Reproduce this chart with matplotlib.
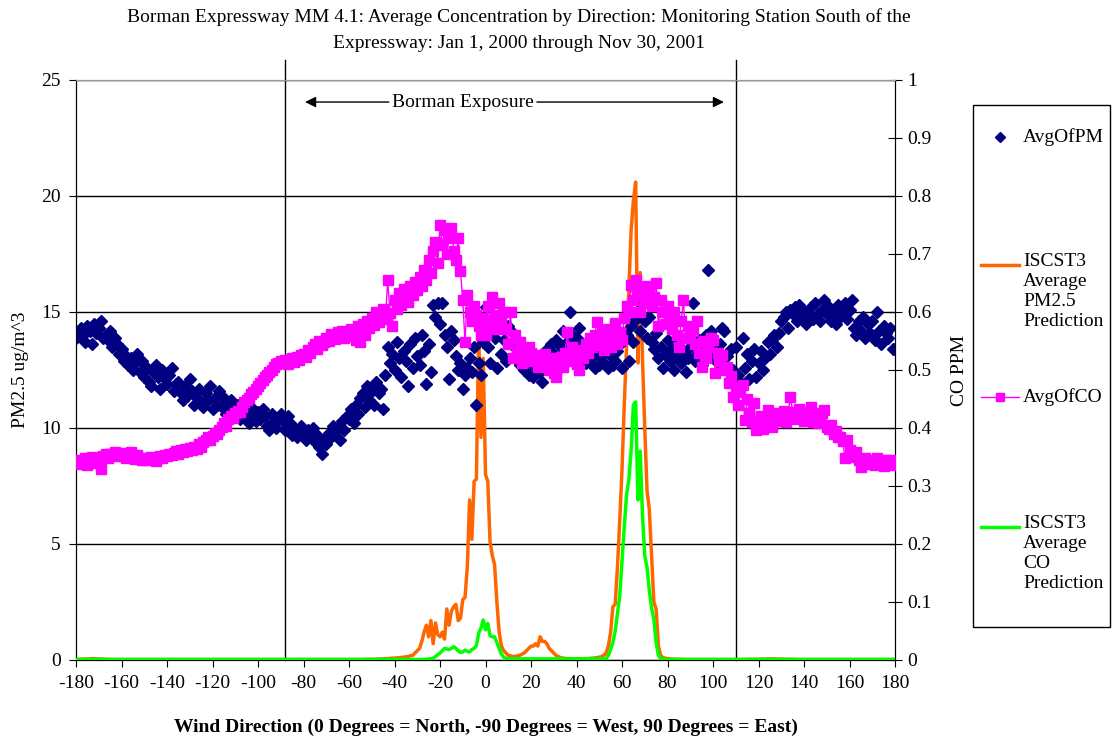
import numpy as np
import matplotlib
matplotlib.use('Agg')
import matplotlib.pyplot as plt
from matplotlib.lines import Line2D
from matplotlib.patches import Rectangle

# ---------------- data (1 degree steps, -180 .. 180) ----------------
directions = list(range(-180, 181))

pm_avg = [
    13.9, 14.1, 14.3, 14.0, 13.7, 14.4, 14.2, 13.6, 14.5, 14.1,
    14.3, 14.6, 13.9, 14.0, 13.8, 14.2, 13.5, 13.9, 13.6, 13.2,
    13.4, 12.9, 13.1, 12.7, 13.0, 12.5, 12.8, 13.2, 12.4, 12.9,
    12.2, 12.6, 12.0, 11.8, 12.4, 12.7, 12.2, 11.7, 12.5, 12.1,
    11.9, 12.3, 12.6, 11.6, 11.9, 12.0, 11.5, 11.2, 11.8, 11.4,
    12.1, 11.6, 11.0, 11.3, 11.7, 11.1, 10.9, 11.5, 11.2, 11.8,
    10.8, 11.3, 11.0, 11.6, 10.9, 11.3, 10.6, 10.9, 11.2, 10.5,
    10.8, 11.0, 10.4, 10.7, 11.0, 10.6, 10.2, 10.9, 10.5, 10.3,
    10.7, 10.4, 10.8, 10.5, 10.1, 9.9, 10.6, 10.3, 10.0, 10.4,
    10.6, 10.3, 9.9, 10.5, 10.2, 9.7, 10.0, 9.6, 9.8, 10.1,
    9.8, 9.5, 9.9, 9.6, 10.0, 9.4, 9.7, 9.2, 8.9, 9.5,
    9.3, 9.8, 9.6, 10.1, 9.7, 10.0, 9.5, 10.3, 9.9, 10.5,
    10.4, 10.8, 10.2, 11.0, 10.6, 11.3, 11.5, 10.9, 11.8, 11.2,
    11.6, 11.0, 12.0, 11.5, 11.7, 10.8, 12.3, 13.5, 12.8, 13.2,
    12.5, 13.7, 13.0, 12.2, 13.3, 12.9, 11.8, 13.6, 12.6, 13.9,
    13.1, 12.7, 14.0, 13.3, 11.9, 13.6, 12.4, 15.3, 14.8, 15.4,
    14.5, 15.4, 14.0, 13.5, 12.1, 14.2, 13.8, 13.1, 12.5, 12.8,
    11.7, 12.3, 12.6, 13.0, 12.4, 13.5, 11.0, 12.8, 12.3, 13.7,
    15.2, 13.5, 12.8, 14.3, 13.9, 12.6, 14.5, 13.2, 13.8, 12.9,
    14.4, 13.6, 14.1, 13.0, 13.8, 12.7, 13.3, 12.5, 13.0, 12.3,
    12.8, 12.2, 12.6, 13.1, 12.4, 12.0, 12.9, 13.4, 12.7, 13.6,
    13.2, 13.8, 12.5, 13.5, 14.2, 13.0, 13.7, 15.0, 14.0, 13.3,
    13.9, 14.3, 13.1, 13.6, 12.8, 13.4, 12.9, 13.3, 12.6, 13.0,
    12.7, 13.2, 12.8, 13.5, 12.6, 13.1, 12.7, 12.9, 13.3, 13.6,
    12.6, 13.8, 14.0, 12.9, 14.4, 13.7, 14.7, 15.0, 14.2, 15.3,
    14.6, 13.9, 14.8, 13.7, 13.4, 14.1, 13.0, 13.5, 12.6, 13.2,
    13.8, 12.9, 13.4, 12.5, 13.1, 13.7, 12.8, 13.3, 12.4, 13.0,
    13.5, 15.4, 12.9, 13.2, 13.8, 12.7, 13.6, 14.0, 16.8, 14.2,
    13.3, 13.0, 12.8, 13.6, 14.3, 14.2, 13.1, 12.6, 13.4, 12.5,
    13.5, 12.3, 12.0, 13.9, 12.6, 13.2, 12.1, 12.9, 13.4, 12.2,
    12.8, 13.3, 12.5, 13.0, 13.7, 13.2, 13.8, 14.0, 13.5, 14.1,
    14.6, 14.8, 15.0, 14.3, 15.1, 14.9, 15.2, 14.6, 15.3, 14.8,
    15.0, 14.5, 14.8, 15.2, 14.7, 15.4, 14.9, 14.6, 15.1, 15.5,
    14.9, 15.2, 14.6, 15.0, 14.5, 15.3, 14.8, 15.0, 15.4, 14.7,
    15.1, 15.5, 14.3, 14.0, 14.6, 14.2, 14.8, 13.9, 14.5, 14.1,
    14.6, 13.8, 15.0, 14.2, 13.6, 14.4, 14.1, 13.9, 14.3, 13.4,
    13.4,
]

co_avg = [
    0.342, 0.345, 0.338, 0.343, 0.348, 0.336, 0.344, 0.350, 0.341, 0.339,
    0.347, 0.330, 0.352, 0.355, 0.349, 0.356, 0.353, 0.358, 0.351, 0.355,
    0.357, 0.352, 0.349, 0.355, 0.358, 0.351, 0.347, 0.353, 0.349, 0.345,
    0.348, 0.344, 0.347, 0.350, 0.346, 0.343, 0.349, 0.352, 0.348, 0.354,
    0.351, 0.356, 0.353, 0.357, 0.360, 0.355, 0.362, 0.358, 0.364, 0.360,
    0.366, 0.362, 0.368, 0.364, 0.372, 0.368, 0.375, 0.380, 0.384, 0.380,
    0.386, 0.392, 0.389, 0.396, 0.402, 0.408, 0.404, 0.415, 0.420, 0.418,
    0.426, 0.430, 0.428, 0.437, 0.444, 0.448, 0.452, 0.458, 0.462, 0.468,
    0.472, 0.478, 0.482, 0.488, 0.492, 0.497, 0.500, 0.505, 0.510, 0.512,
    0.515, 0.512, 0.518, 0.510, 0.516, 0.520, 0.514, 0.522, 0.518, 0.525,
    0.528, 0.522, 0.535, 0.530, 0.540, 0.545, 0.537, 0.550, 0.543, 0.548,
    0.555, 0.550, 0.562, 0.558, 0.553, 0.565, 0.560, 0.568, 0.555, 0.562,
    0.558, 0.570, 0.565, 0.552, 0.575, 0.548, 0.580, 0.560, 0.585, 0.572,
    0.590, 0.578, 0.600, 0.582, 0.595, 0.605, 0.588, 0.655, 0.598, 0.576,
    0.620, 0.605, 0.632, 0.612, 0.640, 0.625, 0.618, 0.645, 0.630, 0.652,
    0.638, 0.660, 0.645, 0.672, 0.655, 0.690, 0.668, 0.705, 0.720, 0.685,
    0.750, 0.715, 0.742, 0.700, 0.728, 0.745, 0.705, 0.690, 0.728, 0.670,
    0.620, 0.548, 0.630, 0.600, 0.585, 0.610, 0.595, 0.575, 0.560, 0.590,
    0.560, 0.610, 0.580, 0.625, 0.595, 0.570, 0.615, 0.585, 0.600, 0.570,
    0.545, 0.600, 0.520, 0.560, 0.530, 0.548, 0.512, 0.535, 0.520, 0.540,
    0.530, 0.515, 0.525, 0.505, 0.520, 0.510, 0.528, 0.512, 0.500, 0.520,
    0.495, 0.488, 0.510, 0.522, 0.505, 0.530, 0.566, 0.515, 0.540, 0.525,
    0.510, 0.500, 0.535, 0.520, 0.545, 0.530, 0.555, 0.540, 0.560, 0.583,
    0.545, 0.565, 0.535, 0.550, 0.570, 0.540, 0.560, 0.581, 0.545, 0.565,
    0.552, 0.590, 0.610, 0.600, 0.647, 0.620, 0.655, 0.630, 0.600, 0.640,
    0.615, 0.645, 0.633, 0.610, 0.625, 0.650, 0.575, 0.620, 0.600, 0.580,
    0.610, 0.590, 0.570, 0.600, 0.560, 0.540, 0.585, 0.620, 0.555, 0.575,
    0.560, 0.570, 0.545, 0.585, 0.530, 0.505, 0.550, 0.520, 0.540, 0.555,
    0.552, 0.495, 0.530, 0.515, 0.525, 0.500, 0.506, 0.478, 0.490, 0.454,
    0.470, 0.440, 0.462, 0.474, 0.414, 0.450, 0.425, 0.410, 0.443, 0.397,
    0.405, 0.420, 0.398, 0.410, 0.431, 0.415, 0.402, 0.420, 0.412, 0.425,
    0.418, 0.430, 0.410, 0.422, 0.454, 0.428, 0.415, 0.419, 0.432, 0.420,
    0.412, 0.428, 0.418, 0.436, 0.410, 0.420, 0.408, 0.415, 0.425, 0.431,
    0.402, 0.398, 0.405, 0.390, 0.395, 0.385, 0.384, 0.378, 0.348, 0.379,
    0.362, 0.355, 0.350, 0.358, 0.345, 0.333, 0.342, 0.348, 0.338, 0.345,
    0.340, 0.336, 0.348, 0.342, 0.338, 0.335, 0.344, 0.340, 0.345, 0.337,
    0.338,
]

iscst3_pm = [
    0.02, 0.03, 0.03, 0.04, 0.04, 0.05, 0.05, 0.06, 0.06, 0.05,
    0.05, 0.04, 0.04, 0.03, 0.03, 0.02, 0.02, 0.02, 0.02, 0.02,
    0.02, 0.02, 0.02, 0.02, 0.02, 0.02, 0.02, 0.02, 0.02, 0.02,
    0.02, 0.02, 0.02, 0.02, 0.02, 0.02, 0.02, 0.02, 0.02, 0.02,
    0.02, 0.02, 0.02, 0.02, 0.02, 0.02, 0.02, 0.02, 0.02, 0.02,
    0.02, 0.02, 0.02, 0.02, 0.02, 0.02, 0.02, 0.02, 0.02, 0.02,
    0.02, 0.02, 0.02, 0.02, 0.02, 0.02, 0.02, 0.02, 0.02, 0.02,
    0.02, 0.02, 0.02, 0.02, 0.02, 0.02, 0.02, 0.02, 0.02, 0.02,
    0.02, 0.02, 0.02, 0.02, 0.02, 0.02, 0.02, 0.02, 0.02, 0.02,
    0.02, 0.02, 0.02, 0.02, 0.02, 0.02, 0.02, 0.02, 0.02, 0.02,
    0.02, 0.02, 0.02, 0.02, 0.02, 0.02, 0.02, 0.02, 0.02, 0.02,
    0.02, 0.02, 0.02, 0.02, 0.02, 0.02, 0.02, 0.02, 0.02, 0.02,
    0.02, 0.02, 0.02, 0.02, 0.02, 0.02, 0.02, 0.03, 0.03, 0.03,
    0.03, 0.03, 0.04, 0.04, 0.05, 0.05, 0.06, 0.06, 0.07, 0.08,
    0.08, 0.09, 0.10, 0.11, 0.12, 0.14, 0.15, 0.18, 0.20, 0.30,
    0.40, 0.50, 0.80, 1.20, 1.50, 1.00, 1.70, 0.70, 1.60, 1.10,
    1.00, 1.20, 0.90, 2.20, 1.50, 2.10, 2.30, 2.40, 1.70, 1.80,
    2.60, 2.70, 4.00, 6.90, 5.20, 7.70, 7.80, 14.20, 9.60, 13.00,
    8.00, 7.70, 5.10, 4.50, 4.10, 2.50, 1.20, 0.60, 0.40, 0.30,
    0.20, 0.18, 0.15, 0.15, 0.18, 0.20, 0.25, 0.30, 0.40, 0.50,
    0.60, 0.60, 0.70, 0.60, 1.00, 0.80, 0.80, 0.70, 0.50, 0.40,
    0.30, 0.20, 0.15, 0.10, 0.08, 0.07, 0.06, 0.06, 0.05, 0.05,
    0.05, 0.05, 0.05, 0.05, 0.06, 0.06, 0.07, 0.08, 0.09, 0.10,
    0.12, 0.15, 0.20, 0.30, 0.60, 1.20, 2.30, 2.40, 4.00, 6.00,
    8.20, 11.00, 13.50, 16.10, 18.50, 19.80, 20.60, 12.80, 16.70, 13.00,
    10.00, 7.30, 6.50, 4.50, 2.50, 2.20, 0.60, 0.20, 0.10, 0.08,
    0.06, 0.05, 0.04, 0.04, 0.03, 0.03, 0.03, 0.02, 0.02, 0.02,
    0.02, 0.02, 0.02, 0.02, 0.02, 0.02, 0.02, 0.02, 0.02, 0.02,
    0.02, 0.02, 0.02, 0.02, 0.02, 0.02, 0.02, 0.02, 0.02, 0.02,
    0.02, 0.02, 0.02, 0.02, 0.02, 0.03, 0.03, 0.03, 0.03, 0.03,
    0.03, 0.04, 0.04, 0.04, 0.05, 0.05, 0.05, 0.05, 0.04, 0.04,
    0.04, 0.04, 0.03, 0.03, 0.03, 0.03, 0.03, 0.02, 0.02, 0.02,
    0.02, 0.02, 0.02, 0.02, 0.02, 0.02, 0.02, 0.02, 0.02, 0.02,
    0.02, 0.02, 0.02, 0.02, 0.02, 0.02, 0.02, 0.02, 0.02, 0.02,
    0.02, 0.02, 0.02, 0.02, 0.02, 0.02, 0.02, 0.02, 0.02, 0.02,
    0.02, 0.02, 0.02, 0.02, 0.02, 0.02, 0.02, 0.02, 0.02, 0.02,
    0.02,
]

iscst3_co = [
    0.001, 0.001, 0.001, 0.001, 0.001, 0.001, 0.001, 0.001, 0.001, 0.001,
    0.001, 0.001, 0.001, 0.001, 0.001, 0.001, 0.001, 0.001, 0.001, 0.001,
    0.001, 0.001, 0.001, 0.001, 0.001, 0.001, 0.001, 0.001, 0.001, 0.001,
    0.001, 0.001, 0.001, 0.001, 0.001, 0.001, 0.001, 0.001, 0.001, 0.001,
    0.001, 0.001, 0.001, 0.001, 0.001, 0.001, 0.001, 0.001, 0.001, 0.001,
    0.001, 0.001, 0.001, 0.001, 0.001, 0.001, 0.001, 0.001, 0.001, 0.001,
    0.001, 0.001, 0.001, 0.001, 0.001, 0.001, 0.001, 0.001, 0.001, 0.001,
    0.001, 0.001, 0.001, 0.001, 0.001, 0.001, 0.001, 0.001, 0.001, 0.001,
    0.001, 0.001, 0.001, 0.001, 0.001, 0.001, 0.001, 0.001, 0.001, 0.001,
    0.001, 0.001, 0.001, 0.001, 0.001, 0.001, 0.001, 0.001, 0.001, 0.001,
    0.001, 0.001, 0.001, 0.001, 0.001, 0.001, 0.001, 0.001, 0.001, 0.001,
    0.001, 0.001, 0.001, 0.001, 0.001, 0.001, 0.001, 0.001, 0.001, 0.001,
    0.001, 0.001, 0.001, 0.001, 0.001, 0.001, 0.001, 0.001, 0.001, 0.001,
    0.001, 0.001, 0.001, 0.001, 0.001, 0.001, 0.001, 0.001, 0.001, 0.001,
    0.001, 0.001, 0.001, 0.001, 0.001, 0.001, 0.001, 0.001, 0.001, 0.001,
    0.001, 0.001, 0.001, 0.001, 0.001, 0.002, 0.002, 0.003, 0.006, 0.009,
    0.012, 0.016, 0.020, 0.019, 0.018, 0.020, 0.023, 0.020, 0.016, 0.013,
    0.014, 0.017, 0.015, 0.014, 0.018, 0.020, 0.025, 0.046, 0.055, 0.069,
    0.052, 0.063, 0.042, 0.040, 0.040, 0.030, 0.020, 0.010, 0.005, 0.003,
    0.002, 0.002, 0.002, 0.002, 0.002, 0.002, 0.002, 0.002, 0.002, 0.002,
    0.002, 0.002, 0.002, 0.002, 0.002, 0.002, 0.002, 0.002, 0.002, 0.002,
    0.002, 0.002, 0.002, 0.002, 0.002, 0.002, 0.002, 0.002, 0.002, 0.002,
    0.002, 0.002, 0.002, 0.002, 0.002, 0.002, 0.002, 0.002, 0.002, 0.002,
    0.002, 0.002, 0.002, 0.002, 0.008, 0.018, 0.030, 0.050, 0.080, 0.110,
    0.170, 0.230, 0.285, 0.310, 0.360, 0.440, 0.445, 0.276, 0.360, 0.250,
    0.180, 0.160, 0.120, 0.090, 0.070, 0.030, 0.008, 0.002, 0.001, 0.001,
    0.001, 0.001, 0.001, 0.001, 0.001, 0.001, 0.001, 0.001, 0.001, 0.001,
    0.001, 0.001, 0.001, 0.001, 0.001, 0.001, 0.001, 0.001, 0.001, 0.001,
    0.001, 0.001, 0.001, 0.001, 0.001, 0.001, 0.001, 0.001, 0.001, 0.001,
    0.001, 0.001, 0.001, 0.001, 0.001, 0.001, 0.001, 0.001, 0.001, 0.001,
    0.001, 0.001, 0.001, 0.001, 0.001, 0.001, 0.001, 0.001, 0.001, 0.001,
    0.001, 0.001, 0.001, 0.001, 0.001, 0.001, 0.001, 0.001, 0.001, 0.001,
    0.001, 0.001, 0.001, 0.001, 0.001, 0.001, 0.001, 0.001, 0.001, 0.001,
    0.001, 0.001, 0.001, 0.001, 0.001, 0.001, 0.001, 0.001, 0.001, 0.001,
    0.001, 0.001, 0.001, 0.001, 0.001, 0.001, 0.001, 0.001, 0.001, 0.001,
    0.001, 0.001, 0.001, 0.001, 0.001, 0.001, 0.001, 0.001, 0.001, 0.001,
    0.001,
]

x_ticks = list(range(-180, 181, 20))
left_ticks = [0, 5, 10, 15, 20, 25]
right_ticks = [0, 0.1, 0.2, 0.3, 0.4, 0.5, 0.6, 0.7, 0.8, 0.9, 1.0]
right_tick_labels = ['0', '0.1', '0.2', '0.3', '0.4', '0.5', '0.6', '0.7', '0.8', '0.9', '1']
exposure_bounds = [-88, 110]

title_lines = ["Borman Expressway MM 4.1: Average Concentration by Direction: Monitoring Station South of the",
               "Expressway: Jan 1, 2000 through Nov 30, 2001"]

for arr in (pm_avg, co_avg, iscst3_pm, iscst3_co):
    assert len(arr) == len(directions), len(arr)

# ---------------- figure ----------------
plt.rcParams['font.family'] = ['Liberation Serif', 'DejaVu Serif']
plt.rcParams['font.size'] = 14
plt.rcParams['axes.unicode_minus'] = False

W, H = 1114, 742
fig = plt.figure(figsize=(W / 100, H / 100), dpi=100)

def fx(p):
    return p / W

def fy(p):
    return 1 - p / H

ax = fig.add_axes([fx(76), fy(660), fx(895) - fx(76), fy(80) - fy(660)])
ax2 = ax.twinx()

PM_C = '#000080'
ORANGE = '#FF6600'
MAGENTA = '#FF00FF'
GREEN = '#00FF00'

ax.plot(directions, iscst3_pm, color=ORANGE, lw=2.5, zorder=2)
ax.plot(directions, pm_avg, linestyle='none', marker='D', color=PM_C, ms=6.2, zorder=3)
ax2.plot(directions, co_avg, color=MAGENTA, lw=1, marker='s', ms=7, zorder=3)
ax2.plot(directions, iscst3_co, color=GREEN, lw=2.5, zorder=4)

ax.set_xlim(-180, 180)
ax.set_ylim(0, 25)
ax2.set_ylim(0, 1)
ax.set_xticks(x_ticks)
ax.set_yticks(left_ticks)
ax2.set_yticks(right_ticks)
ax2.set_yticklabels(right_tick_labels)

ax.yaxis.grid(True, color='black', lw=1)
ax.set_axisbelow(True)

for a in (ax, ax2):
    a.spines['top'].set_color('#9a9a9a')
    a.spines['left'].set_color('black')
    a.spines['right'].set_color('black')
    a.spines['bottom'].set_color('black')

ax.tick_params(axis='x', direction='out', length=5, pad=6, labelsize=14)
ax.tick_params(axis='y', direction='out', length=5, pad=6, labelsize=14)
ax2.tick_params(axis='y', direction='inout', length=10, pad=4, labelsize=14)

# vertical exposure bounds
for xv in exposure_bounds:
    ax.plot([xv, xv], [0, 25.86], color='black', lw=1, clip_on=False, zorder=1.5)

# Borman exposure annotation
y_ann = 24.05
ax.text(-10, y_ann, 'Borman Exposure', ha='center', va='center', fontsize=14)
ax.annotate('', xy=(-79.3, y_ann), xytext=(-42.5, y_ann),
            arrowprops=dict(arrowstyle='-|>', color='black', lw=1, shrinkA=0, shrinkB=0, mutation_scale=16))
ax.annotate('', xy=(104.8, y_ann), xytext=(22.6, y_ann),
            arrowprops=dict(arrowstyle='-|>', color='black', lw=1, shrinkA=0, shrinkB=0, mutation_scale=16))

# axis labels
ax.set_ylabel('PM2.5 ug/m^3', fontsize=14)
ax.yaxis.set_label_coords((29 - 76) / 819, 0.5)
ax2.set_ylabel('CO PPM', fontsize=14)
ax2.yaxis.set_label_coords((951 - 76) / 819, 0.5)
ax.set_xlabel('Wind Direction (0 Degrees = North, -90 Degrees = West, 90 Degrees = East)',
              fontweight='bold', fontsize=14)
ax.xaxis.set_label_coords(0.5, (660 - 719) / 580)

# title
fig.text(fx(519), fy(17), title_lines[0], ha='center', va='center', fontsize=14)
fig.text(fx(519), fy(43), title_lines[1], ha='center', va='center', fontsize=14)

# manual legend (Excel style)
fig.add_artist(Rectangle((fx(973), fy(627)), fx(1110) - fx(973), fy(105) - fy(627),
                         transform=fig.transFigure, fill=False, ec='black', lw=1))
fig.add_artist(Line2D([fx(1000)], [fy(137)], marker='D', color=PM_C, ms=5, ls='none',
                      transform=fig.transFigure))
fig.text(fx(1023), fy(137), 'AvgOfPM', ha='left', va='center', fontsize=14)

fig.add_artist(Line2D([fx(981), fx(1019)], [fy(265), fy(265)], color=ORANGE, lw=2.5,
                      transform=fig.transFigure))
fig.text(fx(1023), fy(253), 'ISCST3\nAverage\nPM2.5\nPrediction', ha='left', va='top',
         fontsize=14, linespacing=1.22)

fig.add_artist(Line2D([fx(981), fx(1000), fx(1019)], [fy(397)] * 3, color=MAGENTA, lw=1,
                      marker='s', ms=6, markevery=[1], transform=fig.transFigure))
fig.text(fx(1023), fy(397), 'AvgOfCO', ha='left', va='center', fontsize=14)

fig.add_artist(Line2D([fx(981), fx(1019)], [fy(527), fy(527)], color=GREEN, lw=2.5,
                      transform=fig.transFigure))
fig.text(fx(1023), fy(515), 'ISCST3\nAverage\nCO\nPrediction', ha='left', va='top',
         fontsize=14, linespacing=1.22)

fig.savefig('out.png', dpi=100)
